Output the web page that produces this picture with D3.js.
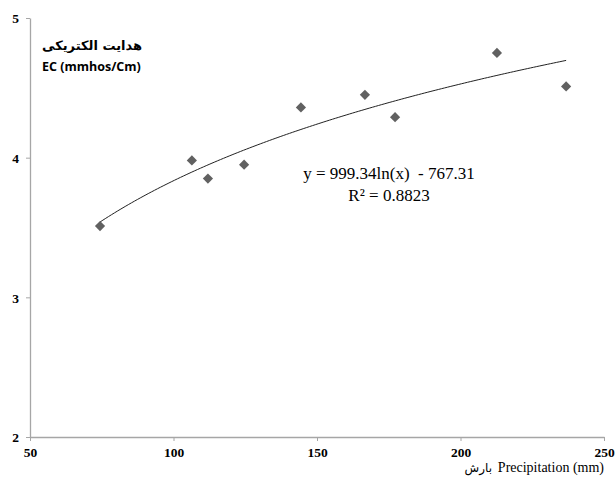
<!DOCTYPE html>
<html>
<head>
<meta charset="utf-8">
<script src="https://cdn.jsdelivr.net/npm/d3@7"></script>
<style>
  html, body { margin: 0; padding: 0; background: #fff; }
  svg { display: block; }
  text { white-space: pre; }
</style>
</head>
<body>
<svg id="chart" width="615" height="481"></svg>
<script>
// ---- data ----
const precipitation = [74.4, 106.4, 112, 124.6, 144.4, 166.7, 177.2, 212.7, 236.8];
const ec = [3.51, 3.98, 3.85, 3.95, 4.36, 4.45, 4.29, 4.75, 4.51];
const xTicks = [50, 100, 150, 200, 250];
const yTicks = [2, 3, 4, 5];
const trendCoef = [0.99934, -0.76731]; // y = a ln(x) + b (EC in mmhos/cm)
const equationLines = ["y = 999.34ln(x)  - 767.31", "R² = 0.8823"];
const yTitleArabic = "هدایت الکتریکی";
const yTitleLatin = "EC (mmhos/Cm)";
const xTitleArabic = "بارش";
const xTitleLatin = "Precipitation (mm)";

// ---- layout ----
const svg = d3.select("#chart");
const mLeft = 30, mRight = 604, mTop = 18, mBottom = 437;
const x = d3.scaleLinear().domain([50, 250]).range([mLeft, mRight]);
const y = d3.scaleLinear().domain([2, 5]).range([mBottom, mTop]);
const axisColor = "#a6a6a6";
const serif = "'Liberation Serif', 'Times New Roman', serif";

// axes
const xAxis = svg.append("g").attr("transform", `translate(0,${mBottom})`)
  .call(d3.axisBottom(x).tickValues(xTicks).tickFormat(d3.format("d"))
    .tickSizeInner(4).tickSizeOuter(0).tickPadding(6));
const yAxis = svg.append("g").attr("transform", `translate(${mLeft},0)`)
  .call(d3.axisLeft(y).tickValues(yTicks).tickFormat(d3.format("d"))
    .tickSizeInner(4).tickSizeOuter(0).tickPadding(7));
[xAxis, yAxis].forEach(g => {
  g.attr("font-family", serif).attr("font-size", 13).attr("font-weight", "bold");
  g.select(".domain").attr("stroke", axisColor).attr("stroke-width", 1.3);
  g.selectAll(".tick line").attr("stroke", axisColor);
  g.selectAll(".tick text")
    .attr("fill", "#000")
    .style("font-family", serif)
    .style("font-weight", "bold")
    .style("font-size", "13.5px");
});
yAxis.selectAll(".tick text").attr("dy", "0.35em");

// trend line (log fit)
const xs = d3.range(d3.min(precipitation), d3.max(precipitation), 1);
xs.push(d3.max(precipitation));
const line = d3.line().x(d => x(d)).y(d => y(trendCoef[0] * Math.log(d) + trendCoef[1]));
svg.append("path").datum(xs).attr("d", line)
  .attr("fill", "none").attr("stroke", "#222").attr("stroke-width", 1);

// markers
const sym = d3.symbol().type(d3.symbolSquare).size(52);
svg.selectAll(".pt").data(precipitation).enter().append("path")
  .attr("class", "pt")
  .attr("d", sym)
  .attr("transform", (d, i) => `translate(${x(d)},${y(ec[i])}) rotate(45)`)
  .attr("fill", "#616161");

// equation
svg.selectAll(".eq").data(equationLines).enter().append("text")
  .attr("class", "eq")
  .attr("x", 389).attr("y", (d, i) => 179 + i * 22)
  .attr("text-anchor", "middle")
  .style("font-family", serif)
  .style("font-size", "17px")
  .text(d => d);

// y title
svg.append("text")
  .attr("x", 42).attr("y", 50)
  .attr("direction", "ltr")
  .attr("text-anchor", "start")
  .style("font-family", "'DejaVu Sans', 'Noto Sans', sans-serif")
  .style("font-weight", "bold")
  .style("font-size", "13px")
  .text(yTitleArabic);
svg.append("text")
  .attr("x", 42).attr("y", 71)
  .attr("text-anchor", "start")
  .style("font-family", "'Open Sans', 'Noto Sans', sans-serif")
  .style("font-weight", "bold")
  .style("font-size", "12.5px")
  .text(yTitleLatin);

// x title
svg.append("text")
  .attr("x", 604).attr("y", 472)
  .attr("text-anchor", "end")
  .style("font-family", serif)
  .style("font-size", "14px")
  .text(xTitleLatin);
svg.append("text")
  .attr("x", 492).attr("y", 472)
  .attr("direction", "ltr")
  .attr("text-anchor", "end")
  .style("font-family", "'DejaVu Sans', sans-serif")
  .style("font-size", "12px")
  .text(xTitleArabic);
</script>
</body>
</html>
